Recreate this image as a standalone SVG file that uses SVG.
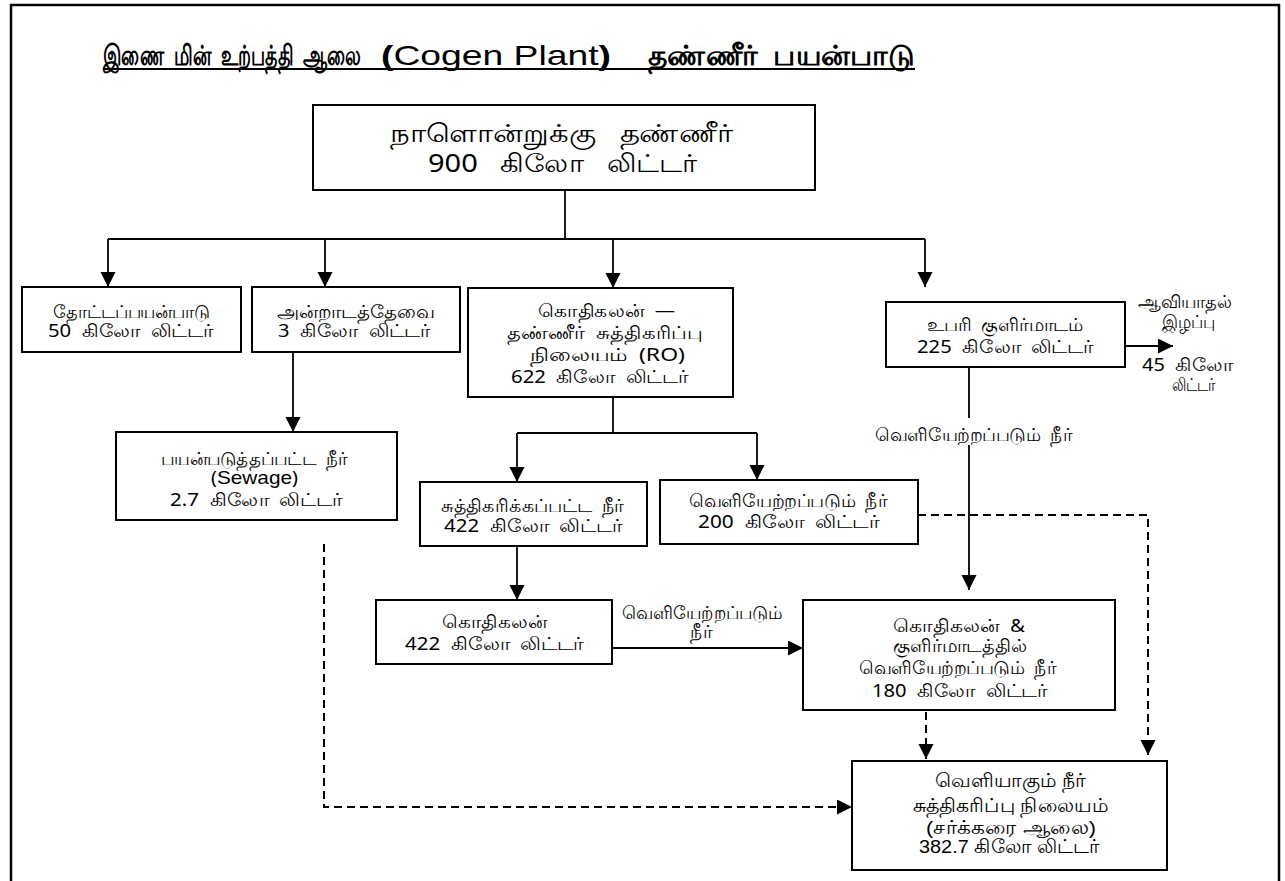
<svg xmlns="http://www.w3.org/2000/svg" width="1285" height="881" viewBox="0 0 1285 881" xml:space="preserve">
<defs>
<marker id="ah" markerUnits="userSpaceOnUse" markerWidth="16" markerHeight="16" refX="15" refY="7.5" orient="auto"><path d="M0,0 L15,7.5 L0,15 z" fill="#000"/></marker>
</defs>
<style>
.box{fill:#fff;stroke:#000;stroke-width:2}
.t{font-family:"Noto Sans","DejaVu Sans",sans-serif;font-size:18px;fill:#000}
.n{font-family:"Liberation Sans Narrow","Liberation Sans",sans-serif;font-size:19px;fill:#000}
.ln{stroke:#000;stroke-width:1.8;fill:none}
.ds{stroke:#000;stroke-width:2;fill:none;stroke-dasharray:8 5}
</style>
<rect width="1285" height="881" fill="#fff"/>
<path d="M11,881 V5 H1279 V881" fill="none" stroke="#000" stroke-width="2.5"/>
<g id="title">
<text x="103" y="65" class="t" style="font-size:28px;font-weight:bold" textLength="258" lengthAdjust="spacingAndGlyphs">இணை &#160;மின் &#160;உற்பத்தி &#160;ஆலை</text>
<text x="381" y="65" class="n" style="font-size:28px" textLength="230" lengthAdjust="spacingAndGlyphs"><tspan style="font-weight:bold">(</tspan>Cogen Plant<tspan style="font-weight:bold">)</tspan></text>
<text x="648" y="65" class="t" style="font-size:28px;font-weight:bold" textLength="267" lengthAdjust="spacingAndGlyphs">தண்ணீர் &#160;பயன்பாடு</text>
<line x1="103" y1="69" x2="915" y2="69" stroke="#000" stroke-width="2"/>
</g>
<g id="connectors">
<path class="ln" d="M565,190 V239 M108,239 H925 M613,397 V433 M517,433 H757 M969,367 V418"/>
<path class="ln" d="M108,239 V287" marker-end="url(#ah)"/>
<path class="ln" d="M325,239 V287" marker-end="url(#ah)"/>
<path class="ln" d="M613,239 V288" marker-end="url(#ah)"/>
<path class="ln" d="M925,239 V287" marker-end="url(#ah)"/>
<path class="ln" d="M293,352 V432" marker-end="url(#ah)"/>
<path class="ln" d="M517,433 V482" marker-end="url(#ah)"/>
<path class="ln" d="M757,433 V480" marker-end="url(#ah)"/>
<path class="ln" d="M1125,346 H1173" marker-end="url(#ah)"/>
<path class="ln" d="M969,445 V590" marker-end="url(#ah)"/>
<path class="ln" d="M517,546 V600" marker-end="url(#ah)"/>
<path class="ln" d="M612,648 H803" marker-end="url(#ah)"/>
<path class="ds" d="M324,544 V807 H852" marker-end="url(#ah)"/>
<path class="ds" d="M918,515 H1148 V755" marker-end="url(#ah)"/>
<path class="ds" d="M926,712 V759" marker-end="url(#ah)"/>
<text x="622" y="619" class="t" textLength="160" lengthAdjust="spacingAndGlyphs">வெளியேற்றப்படும்</text>
<text x="690" y="638" class="t" textLength="22" lengthAdjust="spacingAndGlyphs">நீர்</text>
<text x="875" y="441" class="t" textLength="197" lengthAdjust="spacingAndGlyphs">வெளியேற்றப்படும் &#160;நீர்</text>
<text x="1138" y="308" class="t" textLength="94" lengthAdjust="spacingAndGlyphs">ஆவியாதல்</text>
<text x="1162" y="328" class="t" textLength="53" lengthAdjust="spacingAndGlyphs">இழப்பு</text>
<text x="1142" y="371" class="t" textLength="91" lengthAdjust="spacingAndGlyphs">45 &#160;கிலோ</text>
<text x="1172" y="391" class="t" textLength="43" lengthAdjust="spacingAndGlyphs">லிட்டர்</text>
</g>
<g id="n0"><rect class="box" x="313" y="105" width="502" height="85"/>
<text x="390" y="142" class="t" style="font-size:25px" textLength="343" lengthAdjust="spacingAndGlyphs">நாளொன்றுக்கு &#160;&#160;தண்ணீர்</text>
<text x="428" y="172" class="t" style="font-size:25px" textLength="269" lengthAdjust="spacingAndGlyphs">900 &#160;&#160;கிலோ &#160;&#160;லிட்டர்</text></g>
<g id="n1"><rect class="box" x="22" y="287" width="219" height="65"/>
<text x="53" y="318" class="t" textLength="157" lengthAdjust="spacingAndGlyphs">தோட்டப்பயன்பாடு</text>
<text x="48" y="337" class="t" textLength="165" lengthAdjust="spacingAndGlyphs">50 &#160;கிலோ &#160;லிட்டர்</text></g>
<g id="n2"><rect class="box" x="252" y="287" width="208" height="65"/>
<text x="277" y="318" class="t" textLength="158" lengthAdjust="spacingAndGlyphs">அன்றாடத்தேவை</text>
<text x="278" y="337" class="t" textLength="152" lengthAdjust="spacingAndGlyphs">3 &#160;கிலோ &#160;லிட்டர்</text></g>
<g id="n3"><rect class="box" x="468" y="288" width="265" height="109"/>
<text x="538" y="317" class="t" textLength="137" lengthAdjust="spacingAndGlyphs">கொதிகலன் &#160;—</text>
<text x="507" y="339" class="t" textLength="195" lengthAdjust="spacingAndGlyphs">தண்ணீர் &#160;சுத்திகரிப்பு</text>
<text x="530" y="361" class="t" textLength="155" lengthAdjust="spacingAndGlyphs">நிலையம் &#160;(RO)</text>
<text x="511" y="383" class="t" textLength="177" lengthAdjust="spacingAndGlyphs">622 &#160;கிலோ &#160;லிட்டர்</text></g>
<g id="n4"><rect class="box" x="886" y="302" width="239" height="65"/>
<text x="927" y="331" class="t" textLength="156" lengthAdjust="spacingAndGlyphs">உபரி &#160;குளிர்மாடம்</text>
<text x="917" y="353" class="t" textLength="176" lengthAdjust="spacingAndGlyphs">225 &#160;கிலோ &#160;லிட்டர்</text></g>
<g id="n5"><rect class="box" x="116" y="432" width="281" height="88"/>
<text x="161" y="465" class="t" textLength="186" lengthAdjust="spacingAndGlyphs">பயன்படுத்தப்பட்ட &#160;நீர்</text>
<text x="211" y="484" class="t" textLength="87" lengthAdjust="spacingAndGlyphs">(<tspan class="n">Sewage</tspan>)</text>
<text x="170" y="506" class="t" textLength="172" lengthAdjust="spacingAndGlyphs">2.7 &#160;கிலோ &#160;லிட்டர்</text></g>
<g id="n6"><rect class="box" x="420" y="482" width="227" height="64"/>
<text x="441" y="512" class="t" textLength="183" lengthAdjust="spacingAndGlyphs">சுத்திகரிக்கப்பட்ட &#160;நீர்</text>
<text x="444" y="532" class="t" textLength="178" lengthAdjust="spacingAndGlyphs">422 &#160;கிலோ &#160;லிட்டர்</text></g>
<g id="n7"><rect class="box" x="660" y="480" width="258" height="64"/>
<text x="689" y="507" class="t" textLength="198" lengthAdjust="spacingAndGlyphs">வெளியேற்றப்படும் &#160;நீர்</text>
<text x="698" y="528" class="t" textLength="181" lengthAdjust="spacingAndGlyphs">200 &#160;கிலோ &#160;லிட்டர்</text></g>
<g id="n8"><rect class="box" x="376" y="600" width="236" height="64"/>
<text x="442" y="628" class="t" textLength="105" lengthAdjust="spacingAndGlyphs">கொதிகலன்</text>
<text x="405" y="650" class="t" textLength="178" lengthAdjust="spacingAndGlyphs">422 &#160;கிலோ &#160;லிட்டர்</text></g>
<g id="n9"><rect class="box" x="803" y="600" width="312" height="110"/>
<text x="893" y="632" class="t" textLength="132" lengthAdjust="spacingAndGlyphs">கொதிகலன் &#160;&amp;</text>
<text x="893" y="652" class="t" textLength="134" lengthAdjust="spacingAndGlyphs">குளிர்மாடத்தில்</text>
<text x="859" y="674" class="t" textLength="197" lengthAdjust="spacingAndGlyphs">வெளியேற்றப்படும் &#160;நீர்</text>
<text x="872" y="697" class="t" textLength="175" lengthAdjust="spacingAndGlyphs">180 &#160;கிலோ &#160;லிட்டர்</text></g>
<g id="n10"><rect class="box" x="852" y="761" width="315" height="109"/>
<text x="935" y="787" class="n" textLength="151" lengthAdjust="spacingAndGlyphs">வெளியாகும் நீர்</text>
<text x="913" y="812" class="n" textLength="195" lengthAdjust="spacingAndGlyphs">சுத்திகரிப்பு நிலையம்</text>
<text x="926" y="834" class="n" textLength="170" lengthAdjust="spacingAndGlyphs">(சர்க்கரை ஆலை)</text>
<text x="919" y="853" class="n" textLength="180" lengthAdjust="spacingAndGlyphs">382.7 கிலோ லிட்டர்</text></g>
</svg>
